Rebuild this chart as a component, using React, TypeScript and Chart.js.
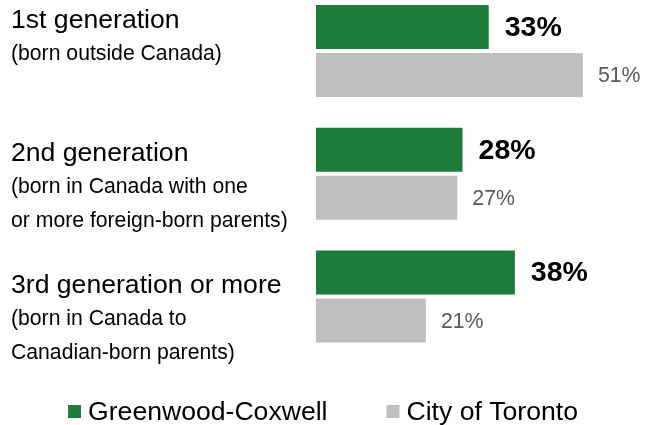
import React, { useEffect, useRef } from "react";
import { Chart, registerables } from "chart.js";

Chart.register(...registerables);

const categoryTitles = ["1st generation", "2nd generation", "3rd generation or more"];
const categorySubtitles = [
  ["(born outside Canada)"],
  ["(born in Canada with one", "or more foreign-born parents)"],
  ["(born in Canada to", "Canadian-born parents)"],
];
const seriesNames = ["Greenwood-Coxwell", "City of Toronto"];
const greenwoodValues = [33, 28, 38];
const torontoValues = [51, 27, 21];

const GREEN = "#1E7B3A";
const GRAY = "#BFBFBF";
const FONT = "'Liberation Sans', Arial, Helvetica, sans-serif";
// baseline offset of first label line relative to category centre
const titleOffsets = [-23, -12.5, -3.5];

const labelsPlugin = {
  id: "customLabels",
  afterDatasetsDraw(chart: any) {
    const ctx = chart.ctx;
    ctx.save();
    // value labels
    chart.data.datasets.forEach((ds: any, di: number) => {
      const meta = chart.getDatasetMeta(di);
      meta.data.forEach((bar: any, i: number) => {
        const v = ds.data[i];
        ctx.textBaseline = "middle";
        ctx.textAlign = "left";
        if (di === 0) {
          ctx.font = `bold 28.5px ${FONT}`;
          ctx.fillStyle = "#000000";
          ctx.fillText(`${v}%`, bar.x + 16, bar.y + 1);
        } else {
          ctx.font = `21.3px ${FONT}`;
          ctx.fillStyle = "#595959";
          ctx.fillText(`${v}%`, bar.x + 15, bar.y + 1.5);
        }
      });
    });
    // category labels
    const y = chart.scales.y;
    categoryTitles.forEach((t, i) => {
      const c = y.getPixelForValue(i);
      const base = c + titleOffsets[i];
      ctx.textBaseline = "alphabetic";
      ctx.textAlign = "left";
      ctx.fillStyle = "#000000";
      ctx.font = `26.6px ${FONT}`;
      ctx.fillText(t, 11, base);
      ctx.font = `21.2px ${FONT}`;
      categorySubtitles[i].forEach((s, j) => {
        ctx.fillText(s, 11, base + 32 + j * 33.5);
      });
    });
    // legend
    ctx.font = `26.6px ${FONT}`;
    const box = 13;
    const gapText = 7;
    const gapItems = 59;
    const widths = chart.data.datasets.map((d: any) => ctx.measureText(d.label).width);
    const total = widths.reduce((a: number, w: number) => a + box + gapText + w, 0) + gapItems * (widths.length - 1);
    let x = 323 - total / 2;
    const ly = 411.5;
    chart.data.datasets.forEach((d: any, i: number) => {
      ctx.fillStyle = d.backgroundColor;
      ctx.fillRect(x, ly - 6.5, box, box);
      ctx.fillStyle = "#000000";
      ctx.textBaseline = "middle";
      ctx.fillText(d.label, x + box + gapText, ly + 1);
      x += box + gapText + widths[i] + gapItems;
    });
    ctx.restore();
  },
};

export default function App() {
  const ref = useRef<HTMLCanvasElement>(null);
  useEffect(() => {
    if (!ref.current) return;
    const chart = new Chart(ref.current, {
      type: "bar",
      data: {
        labels: categoryTitles,
        datasets: [
          {
            label: seriesNames[0],
            data: greenwoodValues,
            backgroundColor: GREEN,
            categoryPercentage: 0.782,
            barPercentage: 0.917,
            clip: false as any,
          },
          {
            label: seriesNames[1],
            data: torontoValues,
            backgroundColor: GRAY,
            categoryPercentage: 0.782,
            barPercentage: 0.917,
            clip: false as any,
          },
        ],
      },
      options: {
        indexAxis: "y",
        animation: false,
        responsive: true,
        maintainAspectRatio: false,
        layout: { padding: { top: 51, bottom: 128.5, left: 316, right: 26 } },
        scales: {
          x: { display: false, min: 0, max: 60 },
          y: { display: false, offset: false },
        },
        plugins: {
          legend: { display: false },
          tooltip: { enabled: false },
        },
      },
      plugins: [labelsPlugin],
    });
    return () => chart.destroy();
  }, []);
  return (
    <div style={{ position: "fixed", left: 0, top: 0, width: 656, height: 425, background: "#fff" }}>
      <canvas ref={ref} />
    </div>
  );
}
